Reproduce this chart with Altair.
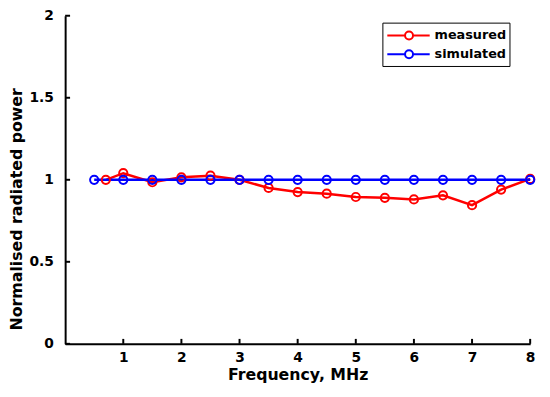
import altair as alt
import pandas as pd

freq_measured = [0.7, 1, 1.5, 2, 2.5, 3, 3.5, 4, 4.5, 5, 5.5, 6, 6.5, 7, 7.5, 8]
measured = [1.0, 1.04, 0.985, 1.015, 1.025, 1.0, 0.95, 0.925, 0.915, 0.895, 0.89, 0.88, 0.905, 0.845, 0.94, 1.005]
freq_simulated = [0.5, 1, 1.5, 2, 2.5, 3, 3.5, 4, 4.5, 5, 5.5, 6, 6.5, 7, 7.5, 8]
simulated = [1.0] * 16
x_ticks = [1, 2, 3, 4, 5, 6, 7, 8]
y_ticks = [0, 0.5, 1, 1.5, 2]
series = ["measured", "simulated"]
colors = ["#FF0000", "#0000FF"]

df = pd.concat([
    pd.DataFrame({"f": freq_measured, "p": measured, "s": "measured"}),
    pd.DataFrame({"f": freq_simulated, "p": simulated, "s": "simulated"}),
])

FONT = "DejaVu Sans"
H = 333

xs = alt.Scale(domain=[0, 8], nice=False)
ys = alt.Scale(domain=[0, 2], nice=False)
color = alt.Color("s:N", scale=alt.Scale(domain=series, range=colors),
                  legend=alt.Legend(title=None, orient="none", legendX=322, legendY=7,
                                    strokeColor="black", fillColor="white", padding=3,
                                    symbolType="M-0.89,0L1.11,0M2.01,0L3.89,0M1.11,0A0.45,0.45 0 1,1 2.01,0A0.45,0.45 0 1,1 1.11,0",
                                    symbolSize=324, symbolStrokeWidth=2, symbolFillColor="transparent",
                                    labelFont=FONT, labelFontSize=13, labelFontWeight="bold",
                                    labelColor="black", rowPadding=0, labelOffset=30))

base = alt.Chart(df)
lines = base.mark_line(strokeWidth=2.5).encode(
    x=alt.X("f:Q", scale=xs, axis=alt.Axis(values=x_ticks, title="Frequency, MHz", ticks=False,
                                            format="~g", labelFlush=False, labelPadding=7,
                                            titlePadding=2)),
    y=alt.Y("p:Q", scale=ys, axis=alt.Axis(values=y_ticks, title="Normalised radiated power", ticks=False,
                                            format="~g", labelPadding=12,
                                            titleX=-44, titleY=196, titleAngle=270,
                                            titleAlign="center", titleBaseline="alphabetic")),
    color=color,
    detail="s:N",
)
points = base.mark_point(filled=False, strokeWidth=2, size=70, opacity=1).encode(
    x=alt.X("f:Q", scale=xs), y=alt.Y("p:Q", scale=ys), color=color,
)

xt = alt.Chart(pd.DataFrame({"t": x_ticks})).mark_rule(color="black", strokeWidth=2).encode(
    x=alt.X("t:Q", scale=xs), y=alt.value(H), y2=alt.value(H - 5))
yt = alt.Chart(pd.DataFrame({"t": y_ticks})).mark_rule(color="black", strokeWidth=2).encode(
    y=alt.Y("t:Q", scale=ys), x=alt.value(0), x2=alt.value(5))

chart = alt.layer(lines, points, xt, yt).properties(
    width=472, height=H,
    autosize=alt.AutoSizeParams(type="none"),
    padding={"left": 58, "top": 5, "right": 12, "bottom": 43},
).configure_view(stroke=None).configure_axis(
    grid=False, domainColor="black", domainWidth=2,
    labelFont=FONT, labelFontSize=14, labelFontWeight="bold", labelColor="black",
    titleFont=FONT, titleFontSize=16, titleFontWeight="bold", titleColor="black",
)

chart.save("out.html", embed_options={"renderer": "svg", "actions": False})
